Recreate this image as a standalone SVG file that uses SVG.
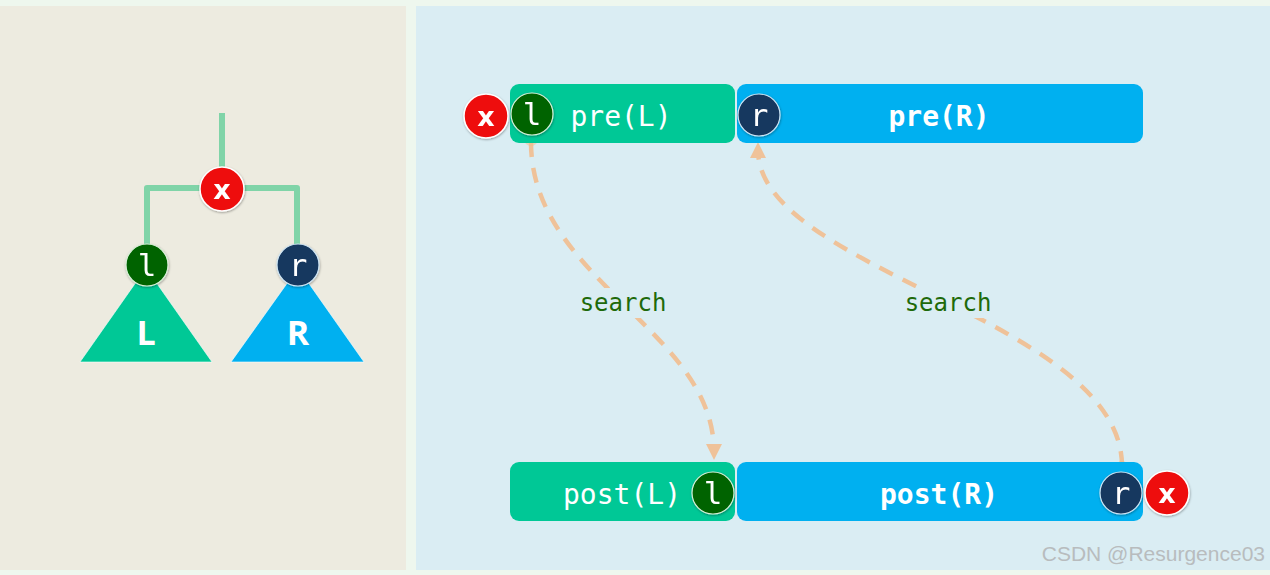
<svg xmlns="http://www.w3.org/2000/svg" width="1270" height="575" viewBox="0 0 1270 575">
<defs>
<style>
.mono{font-family:"DejaVu Sans Mono","Liberation Mono",monospace;fill:#fff;text-anchor:middle;}
.nx{font-family:"DejaVu Sans","Liberation Sans",sans-serif;font-weight:bold;fill:#fff;text-anchor:middle;font-size:27px;}
.nl{font-family:"DejaVu Sans Mono","Liberation Mono",monospace;fill:#fff;text-anchor:middle;font-size:31px;}
.lbl{font-family:"DejaVu Sans Mono","Liberation Mono",monospace;fill:#1E6A0A;font-size:24px;text-anchor:middle;}
.big{font-family:"Open Sans","DejaVu Sans",sans-serif;font-weight:bold;fill:#fff;font-size:34px;text-anchor:middle;}
.cx{fill:#EE1111;stroke:#fff;stroke-width:1.5;}
.cl{fill:#006400;stroke:#d8f0d8;stroke-width:1.2;}
.cr{fill:#17375E;stroke:#cfe6f5;stroke-width:1.2;}
.edge{fill:none;stroke:#80D4A8;stroke-width:6;stroke-linejoin:round;}
.curve{fill:none;stroke:#F2BE90;stroke-width:4.5;stroke-dasharray:15 11;opacity:0.9;}
.boxL{fill:#00C896;}
.boxR{fill:#00B0F0;}
</style>
<marker id="ah" markerWidth="16" markerHeight="16" refX="8" refY="8" orient="auto" markerUnits="userSpaceOnUse">
<path d="M0,0 L16,8 L0,16 Z" fill="#F2BE90"/>
</marker>
<filter id="sh" x="-30%" y="-30%" width="160%" height="160%">
<feDropShadow dx="0.5" dy="1" stdDeviation="1" flood-color="#000" flood-opacity="0.35"/>
</filter>
</defs>
<rect x="0" y="0" width="1270" height="575" fill="#EEF7EE"/>
<rect x="0" y="6" width="406" height="564" fill="#EDEBE0"/>
<rect x="416" y="6" width="854" height="564" fill="#DAEDF3"/>

<g id="tree-edges">
<path class="edge" d="M222,113 V170"/>
<path class="edge" d="M147,252 V188 H297 V252"/>
</g>
<g id="tri-L">
<polygon points="146,268 80,362 212,362" class="boxL" stroke="#ffffff" stroke-opacity="0.6" stroke-width="1"/>
<text class="big" x="146" y="345">L</text>
</g>
<g id="tri-R">
<polygon points="298,268 231,362 364,362" class="boxR" stroke="#ffffff" stroke-opacity="0.6" stroke-width="1"/>
<text class="big" x="298" y="345">R</text>
</g>
<g id="tree-x" filter="url(#sh)">
<circle class="cx" cx="222" cy="189" r="22"/>
<text class="nx" x="222" y="199">x</text>
</g>
<g id="tree-l" filter="url(#sh)">
<circle class="cl" cx="147" cy="265" r="21"/>
<text class="nl" x="147" y="276">l</text>
</g>
<g id="tree-r" filter="url(#sh)">
<circle class="cr" cx="298" cy="265" r="21"/>
<text class="nl" x="298" y="276">r</text>
</g>

<g id="connectors">
<path class="curve" d="M531,142 C531,280 714,330 714,452" marker-end="url(#ah)"/>
<path class="curve" d="M1122,466 C1122,320 758,270 758,150" marker-end="url(#ah)"/>
<circle cx="531" cy="139" r="7" fill="#F2BE90" opacity="0.5"/>
<circle cx="1122" cy="468" r="7" fill="#F2BE90" opacity="0.5"/>
<rect x="574" y="288" width="98" height="30" fill="#DAEDF3"/>
<rect x="896" y="288" width="104" height="30" fill="#DAEDF3"/>
<text class="lbl" x="623" y="311">search</text>
<text class="lbl" x="948" y="311">search</text>
</g>

<g id="preL">
<rect class="boxL" x="510" y="84" width="225" height="59" rx="9"/>
<text class="mono" x="621" y="126" font-size="28">pre(L)</text>
</g>
<g id="preR">
<rect class="boxR" x="737" y="84" width="406" height="59" rx="9"/>
<text class="mono" x="939" y="126" font-size="28" font-weight="bold">pre(R)</text>
</g>
<g id="postL">
<rect class="boxL" x="510" y="462" width="225" height="59" rx="9"/>
<text class="mono" x="622" y="504" font-size="28">post(L)</text>
</g>
<g id="postR">
<rect class="boxR" x="737" y="462" width="406" height="59" rx="9"/>
<text class="mono" x="939" y="504" font-size="28" font-weight="bold">post(R)</text>
</g>

<g id="pre-x" filter="url(#sh)">
<circle class="cx" cx="486" cy="116" r="22"/>
<text class="nx" x="486" y="126">x</text>
</g>
<g id="pre-l" filter="url(#sh)">
<circle class="cl" cx="532" cy="114" r="21"/>
<text class="nl" x="532" y="125">l</text>
</g>
<g id="pre-r" filter="url(#sh)">
<circle class="cr" cx="759" cy="115" r="21"/>
<text class="nl" x="759" y="126">r</text>
</g>
<g id="post-l" filter="url(#sh)">
<circle class="cl" cx="713" cy="493" r="21"/>
<text class="nl" x="713" y="504">l</text>
</g>
<g id="post-r" filter="url(#sh)">
<circle class="cr" cx="1121" cy="493" r="21"/>
<text class="nl" x="1121" y="504">r</text>
</g>
<g id="post-x" filter="url(#sh)">
<circle class="cx" cx="1167" cy="493" r="22"/>
<text class="nx" x="1167" y="503">x</text>
</g>

<text x="1265" y="561" font-family="'Liberation Sans',Arial,sans-serif" font-size="21" fill="#B8BCBE" text-anchor="end">CSDN @Resurgence03</text>
</svg>
